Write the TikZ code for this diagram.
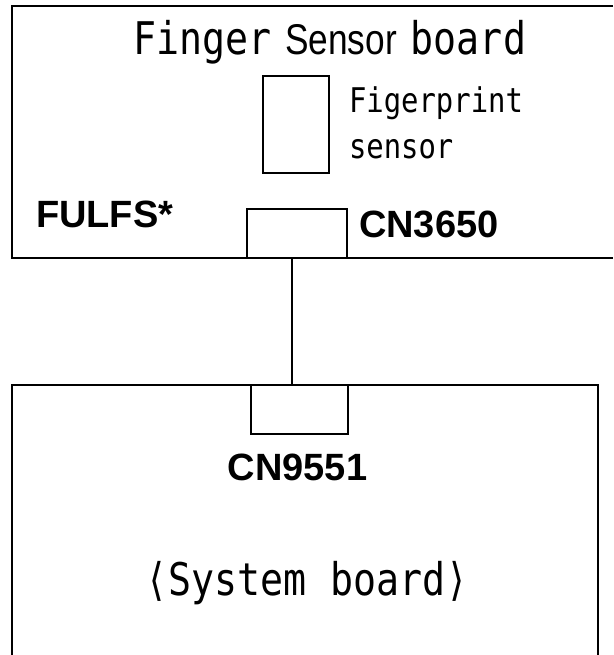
\documentclass[tikz,border=0pt]{standalone}
\usepackage{fontspec}
\setmainfont{Liberation Sans}
\newfontfamily\gothicfont[FakeStretch=0.85]{DejaVu Sans Mono}
\newfontfamily\narrowsans[FakeStretch=0.82]{Liberation Sans}
\usetikzlibrary{positioning}

\begin{document}
\begin{tikzpicture}[x=1pt,y=-1pt,line width=2pt,
  conn/.style={draw,rectangle,inner sep=0pt},
  lab/.style={inner sep=0pt,font=\fontsize{38}{38}\selectfont\bfseries},
  gtxt/.style={inner sep=0pt,align=left}]
\useasboundingbox (0,0) rectangle (613,655);
% finger sensor board
\draw (613,6) -- (12,6) -- (12,258) -- (613,258);
\node[gtxt,anchor=base west] (title) at (132,55)
  {{\fontsize{45}{45}\selectfont\gothicfont Finger}\hspace{14pt}{\fontsize{43}{43}\selectfont\narrowsans Sensor}\hspace{14pt}{\fontsize{45}{45}\selectfont\gothicfont board}};
\draw (263,76) rectangle (329,173);
\node[gtxt,anchor=base west,font=\fontsize{34}{34}\selectfont\gothicfont] (fps) at (348,113) {Figerprint};
\node[gtxt,anchor=base west,font=\fontsize{34}{34}\selectfont\gothicfont] (fps2) at (348,159) {sensor};
\node[lab,anchor=base west] (fulfs) at (35,227) {FULFS*};
\node[conn,minimum width=100pt,minimum height=49pt] (cn3650) at (297,233.5) {};
\node[lab,anchor=base west] (cn3650lab) at (358,237) {CN3650};
% system board
\draw (12,655) -- (12,385) -- (598,385) -- (598,655);
\node[conn,minimum width=97pt,minimum height=49pt] (cn9551) at (299.5,409.5) {};
\node[lab,anchor=base] (cn9551lab) at (297.5,480) {CN9551};
\node[gtxt,anchor=base,font=\fontsize{45}{45}\selectfont\gothicfont] (sysb) at (307,595) {⟨System board⟩};
% cable
\draw (cn3650.south -| 292,0) -- (cn9551.north -| 292,0);
\end{tikzpicture}
\end{document}
